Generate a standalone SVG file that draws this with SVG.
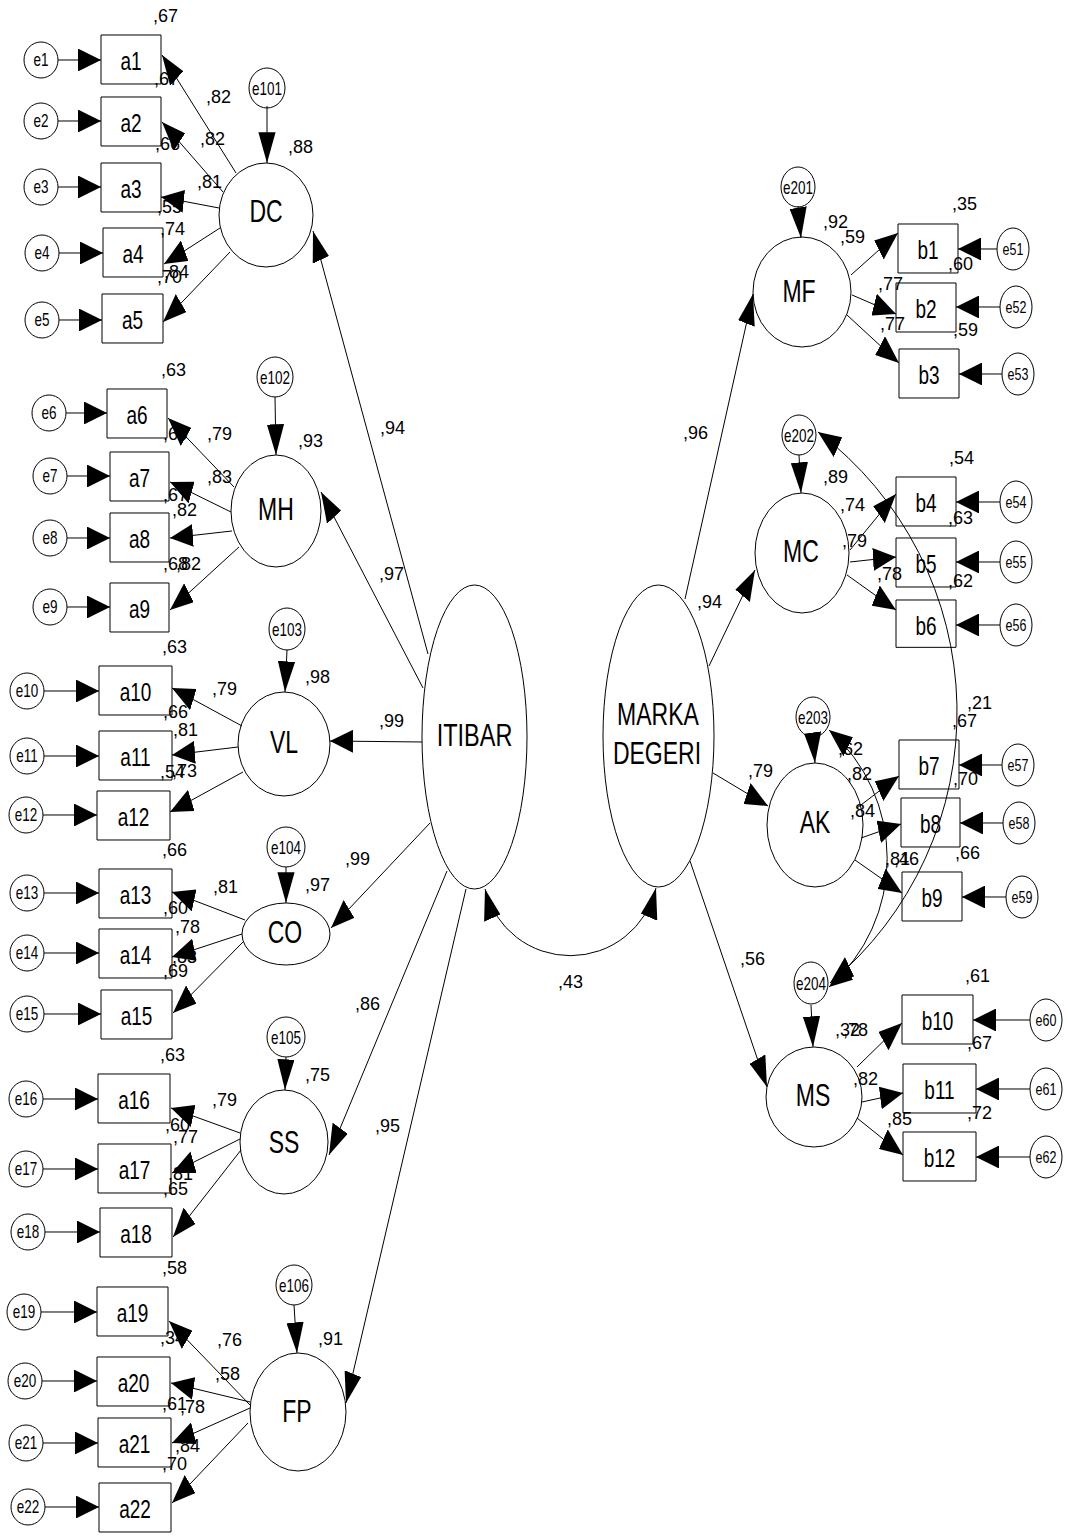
<svg xmlns="http://www.w3.org/2000/svg" width="1068" height="1536" viewBox="0 0 1068 1536">
<style>
  .n { fill: none; stroke: #000; stroke-width: 1; vector-effect: non-scaling-stroke; }
  .c { fill: none; stroke: #000; stroke-width: 1; vector-effect: non-scaling-stroke; marker-end: url(#ah); }
  .cv { fill: none; stroke: #000; stroke-width: 1; vector-effect: non-scaling-stroke; marker-start: url(#ah); marker-end: url(#ah); }
  text { font-family: "Liberation Sans", Arial, sans-serif; fill: #000; }
  .ti { font-size: 19px; text-anchor: middle; }
  .tl { font-size: 23px; text-anchor: middle; }
  .te { font-size: 13.5px; text-anchor: middle; }
  .tr { font-size: 12.5px; text-anchor: middle; }
  .v { font-size: 18px; }
</style>
<defs>
  <marker id="ah" markerUnits="userSpaceOnUse" viewBox="0 0 23 17.2" markerWidth="23" markerHeight="17.2" refX="23" refY="8.6" orient="auto-start-reverse">
    <path d="M0,0 L23,8.6 L0,17.2 z" fill="#000"/>
  </marker>
</defs>

<!-- standardized estimates and squared multiple correlations -->
<g id="coefficients" class="v">
  <text x="153" y="22">,67</text>
  <text x="154" y="85">,67</text>
  <text x="155" y="150">,66</text>
  <text x="157" y="213">,55</text>
  <text x="157" y="283">,70</text>
  <text x="164" y="278">,84</text>
  <text x="160" y="235">,74</text>
  <text x="206" y="103">,82</text>
  <text x="200" y="145">,82</text>
  <text x="197" y="188">,81</text>
  <text x="288" y="153">,88</text>

  <text x="161" y="376">,63</text>
  <text x="163" y="440">,69</text>
  <text x="163" y="501">,67</text>
  <text x="163" y="570">,68</text>
  <text x="176" y="570">,82</text>
  <text x="207" y="440">,79</text>
  <text x="207" y="483">,83</text>
  <text x="172" y="516">,82</text>
  <text x="298" y="447">,93</text>

  <text x="162" y="653">,63</text>
  <text x="163" y="718">,66</text>
  <text x="160" y="778">,54</text>
  <text x="172" y="777">,73</text>
  <text x="212" y="695">,79</text>
  <text x="173" y="736">,81</text>
  <text x="305" y="683">,98</text>

  <text x="162" y="856">,66</text>
  <text x="163" y="914">,60</text>
  <text x="163" y="977">,69</text>
  <text x="172" y="963">,83</text>
  <text x="213" y="893">,81</text>
  <text x="175" y="933">,78</text>
  <text x="305" y="891">,97</text>

  <text x="160" y="1061">,63</text>
  <text x="165" y="1131">,60</text>
  <text x="163" y="1195">,65</text>
  <text x="168" y="1180">,81</text>
  <text x="212" y="1106">,79</text>
  <text x="173" y="1143">,77</text>
  <text x="305" y="1081">,75</text>

  <text x="162" y="1274">,58</text>
  <text x="160" y="1344">,34</text>
  <text x="162" y="1410">,61</text>
  <text x="180" y="1413">,78</text>
  <text x="162" y="1470">,70</text>
  <text x="175" y="1452">,84</text>
  <text x="217" y="1346">,76</text>
  <text x="215" y="1380">,58</text>
  <text x="318" y="1345">,91</text>

  <text x="380" y="434">,94</text>
  <text x="379" y="580">,97</text>
  <text x="379" y="727">,99</text>
  <text x="345" y="865">,99</text>
  <text x="355" y="1010">,86</text>
  <text x="375" y="1132">,95</text>
  <text x="558" y="988">,43</text>
  <text x="683" y="439">,96</text>
  <text x="697" y="608">,94</text>
  <text x="748" y="777">,79</text>
  <text x="740" y="965">,56</text>

  <text x="952" y="210">,35</text>
  <text x="823" y="228">,92</text>
  <text x="840" y="243">,59</text>
  <text x="948" y="270">,60</text>
  <text x="878" y="290">,77</text>
  <text x="880" y="330">,77</text>
  <text x="953" y="336">,59</text>

  <text x="949" y="464">,54</text>
  <text x="948" y="524">,63</text>
  <text x="948" y="587">,62</text>
  <text x="823" y="483">,89</text>
  <text x="840" y="511">,74</text>
  <text x="842" y="547">,79</text>
  <text x="877" y="580">,78</text>

  <text x="952" y="727">,67</text>
  <text x="953" y="785">,70</text>
  <text x="955" y="859">,66</text>
  <text x="838" y="755">,62</text>
  <text x="847" y="780">,82</text>
  <text x="850" y="817">,84</text>
  <text x="885" y="865">,81</text>
  <text x="894" y="865">,46</text>
  <text x="967" y="709">,21</text>

  <text x="965" y="982">,61</text>
  <text x="967" y="1049">,67</text>
  <text x="967" y="1119">,72</text>
  <text x="835" y="1036">,32</text>
  <text x="843" y="1036">,78</text>
  <text x="853" y="1085">,82</text>
  <text x="887" y="1125">,85</text>
</g>

<!-- model drawn in a vertically stretched frame -->
<g id="model" transform="scale(1 1.333333)">
  <!-- ITIBAR measurement: error terms -->
  <g id="e1"><ellipse class="n" cx="41" cy="45" rx="17" ry="13.5"/><text class="te" x="41" y="49.5">e1</text></g>
  <g id="e2"><ellipse class="n" cx="41" cy="90.75" rx="17" ry="13.5"/><text class="te" x="41" y="95.25">e2</text></g>
  <g id="e3"><ellipse class="n" cx="41" cy="140.25" rx="17" ry="13.5"/><text class="te" x="41" y="144.75">e3</text></g>
  <g id="e4"><ellipse class="n" cx="42" cy="189.75" rx="17" ry="13.5"/><text class="te" x="42" y="194.25">e4</text></g>
  <g id="e5"><ellipse class="n" cx="42" cy="240" rx="17" ry="13.5"/><text class="te" x="42" y="244.5">e5</text></g>
  <g id="e6"><ellipse class="n" cx="49" cy="309.75" rx="17" ry="13.5"/><text class="te" x="49" y="314.25">e6</text></g>
  <g id="e7"><ellipse class="n" cx="50" cy="357" rx="17" ry="13.5"/><text class="te" x="50" y="361.5">e7</text></g>
  <g id="e8"><ellipse class="n" cx="50" cy="403.5" rx="17" ry="13.5"/><text class="te" x="50" y="408">e8</text></g>
  <g id="e9"><ellipse class="n" cx="50" cy="455.25" rx="17" ry="13.5"/><text class="te" x="50" y="459.75">e9</text></g>
  <g id="e10"><ellipse class="n" cx="27" cy="518.25" rx="17" ry="13.5"/><text class="te" x="27" y="522.75">e10</text></g>
  <g id="e11"><ellipse class="n" cx="27" cy="567" rx="17" ry="13.5"/><text class="te" x="27" y="571.5">e11</text></g>
  <g id="e12"><ellipse class="n" cx="26" cy="611.25" rx="17" ry="13.5"/><text class="te" x="26" y="615.75">e12</text></g>
  <g id="e13"><ellipse class="n" cx="27" cy="669.75" rx="17" ry="13.5"/><text class="te" x="27" y="674.25">e13</text></g>
  <g id="e14"><ellipse class="n" cx="27" cy="714.75" rx="17" ry="13.5"/><text class="te" x="27" y="719.25">e14</text></g>
  <g id="e15"><ellipse class="n" cx="27" cy="760.5" rx="17" ry="13.5"/><text class="te" x="27" y="765">e15</text></g>
  <g id="e16"><ellipse class="n" cx="26" cy="824.25" rx="17" ry="13.5"/><text class="te" x="26" y="828.75">e16</text></g>
  <g id="e17"><ellipse class="n" cx="26" cy="876.75" rx="17" ry="13.5"/><text class="te" x="26" y="881.25">e17</text></g>
  <g id="e18"><ellipse class="n" cx="28" cy="924" rx="17" ry="13.5"/><text class="te" x="28" y="928.5">e18</text></g>
  <g id="e19"><ellipse class="n" cx="24" cy="984" rx="17" ry="13.5"/><text class="te" x="24" y="988.5">e19</text></g>
  <g id="e20"><ellipse class="n" cx="25" cy="1035.75" rx="17" ry="13.5"/><text class="te" x="25" y="1040.25">e20</text></g>
  <g id="e21"><ellipse class="n" cx="26" cy="1082.25" rx="17" ry="13.5"/><text class="te" x="26" y="1086.75">e21</text></g>
  <g id="e22"><ellipse class="n" cx="28" cy="1130.25" rx="17" ry="13.5"/><text class="te" x="28" y="1134.75">e22</text></g>

  <!-- ITIBAR measurement: indicators -->
  <g id="a1"><rect class="n" x="101" y="26.25" width="60" height="36.75"/><text class="ti" x="131" y="52.25">a1</text></g>
  <g id="a2"><rect class="n" x="101" y="72.75" width="60" height="36.75"/><text class="ti" x="131" y="98.75">a2</text></g>
  <g id="a3"><rect class="n" x="101" y="122.25" width="60" height="36.75"/><text class="ti" x="131" y="148.25">a3</text></g>
  <g id="a4"><rect class="n" x="103" y="171" width="60" height="36.75"/><text class="ti" x="133" y="197">a4</text></g>
  <g id="a5"><rect class="n" x="102" y="220.5" width="61" height="36.75"/><text class="ti" x="132.5" y="246.5">a5</text></g>
  <g id="a6"><rect class="n" x="107" y="291.75" width="60" height="36.75"/><text class="ti" x="137" y="317.75">a6</text></g>
  <g id="a7"><rect class="n" x="110" y="339" width="59" height="36.75"/><text class="ti" x="139.5" y="365">a7</text></g>
  <g id="a8"><rect class="n" x="110" y="384.75" width="59" height="36.75"/><text class="ti" x="139.5" y="410.75">a8</text></g>
  <g id="a9"><rect class="n" x="110" y="437.25" width="59" height="36.75"/><text class="ti" x="139.5" y="463.25">a9</text></g>
  <g id="a10"><rect class="n" x="99" y="499.5" width="73" height="36.75"/><text class="ti" x="135.5" y="525.5">a10</text></g>
  <g id="a11"><rect class="n" x="99" y="548.25" width="73" height="36.75"/><text class="ti" x="135.5" y="574.25">a11</text></g>
  <g id="a12"><rect class="n" x="97" y="593.25" width="73" height="36.75"/><text class="ti" x="133.5" y="619.25">a12</text></g>
  <g id="a13"><rect class="n" x="99" y="651.75" width="73" height="36.75"/><text class="ti" x="135.5" y="677.75">a13</text></g>
  <g id="a14"><rect class="n" x="99" y="696.75" width="73" height="36.75"/><text class="ti" x="135.5" y="722.75">a14</text></g>
  <g id="a15"><rect class="n" x="101" y="742.5" width="71" height="36.75"/><text class="ti" x="136.5" y="768.5">a15</text></g>
  <g id="a16"><rect class="n" x="98" y="805.5" width="72" height="36.75"/><text class="ti" x="134" y="831.5">a16</text></g>
  <g id="a17"><rect class="n" x="98" y="858" width="73" height="36.75"/><text class="ti" x="134.5" y="884">a17</text></g>
  <g id="a18"><rect class="n" x="100" y="906" width="72" height="36.75"/><text class="ti" x="136" y="932">a18</text></g>
  <g id="a19"><rect class="n" x="97" y="965.25" width="71" height="36.75"/><text class="ti" x="132.5" y="991.25">a19</text></g>
  <g id="a20"><rect class="n" x="97" y="1017.75" width="73" height="36.75"/><text class="ti" x="133.5" y="1043.75">a20</text></g>
  <g id="a21"><rect class="n" x="98" y="1063.5" width="73" height="36.75"/><text class="ti" x="134.5" y="1089.5">a21</text></g>
  <g id="a22"><rect class="n" x="99" y="1112.25" width="72" height="36.75"/><text class="ti" x="135" y="1138.25">a22</text></g>

  <!-- first-order factors of ITIBAR and their disturbances -->
  <g id="e101"><ellipse class="n" cx="267" cy="66" rx="18" ry="15"/><text class="te" x="267" y="71">e101</text></g>
  <g id="e102"><ellipse class="n" cx="275" cy="282.75" rx="18" ry="15"/><text class="te" x="275" y="287.75">e102</text></g>
  <g id="e103"><ellipse class="n" cx="287" cy="471.75" rx="18" ry="15.75"/><text class="te" x="287" y="476.75">e103</text></g>
  <g id="e104"><ellipse class="n" cx="286" cy="635.25" rx="19" ry="15"/><text class="te" x="286" y="640.25">e104</text></g>
  <g id="e105"><ellipse class="n" cx="286" cy="777.75" rx="19" ry="15"/><text class="te" x="286" y="782.75">e105</text></g>
  <g id="e106"><ellipse class="n" cx="294" cy="963.75" rx="18" ry="15"/><text class="te" x="294" y="968.75">e106</text></g>
  <g id="DC"><ellipse class="n" cx="266" cy="161.25" rx="47" ry="39"/><text class="tl" x="266" y="166.5">DC</text></g>
  <g id="MH"><ellipse class="n" cx="276" cy="383.25" rx="45" ry="42"/><text class="tl" x="276" y="390">MH</text></g>
  <g id="VL"><ellipse class="n" cx="284" cy="558" rx="46" ry="39"/><text class="tl" x="284" y="564.75">VL</text></g>
  <g id="CO"><ellipse class="n" cx="286" cy="700.5" rx="44" ry="23.25"/><text class="tl" x="285" y="707.25">CO</text></g>
  <g id="SS"><ellipse class="n" cx="284" cy="856.5" rx="44" ry="39"/><text class="tl" x="284" y="864.75">SS</text></g>
  <g id="FP"><ellipse class="n" cx="298" cy="1059" rx="48" ry="44.25"/><text class="tl" x="297" y="1066.5">FP</text></g>

  <!-- second-order factors -->
  <g id="ITIBAR"><ellipse class="n" cx="474.5" cy="552.75" rx="52.5" ry="114"/><text class="tl" x="474.5" y="559.5" style="font-size:23.5px">ITIBAR</text></g>
  <g id="MARKA_DEGERI"><ellipse class="n" cx="658.5" cy="552" rx="55.5" ry="113.25"/><text class="tl" x="658" y="543.75">MARKA</text><text class="tl" x="657" y="573">DEGERI</text></g>

  <!-- MARKA DEGERI first-order factors and disturbances -->
  <g id="e201"><ellipse class="n" cx="798" cy="140.25" rx="17" ry="15"/><text class="te" x="798" y="145.25">e201</text></g>
  <g id="e202"><ellipse class="n" cx="799" cy="326.25" rx="17" ry="15"/><text class="te" x="799" y="331.25">e202</text></g>
  <g id="e203"><ellipse class="n" cx="813" cy="537.75" rx="17" ry="15"/><text class="te" x="813" y="542.75">e203</text></g>
  <g id="e204"><ellipse class="n" cx="811" cy="737.25" rx="17" ry="15.75"/><text class="te" x="811" y="742.25">e204</text></g>
  <g id="MF"><ellipse class="n" cx="802" cy="219" rx="49" ry="41.25"/><text class="tl" x="799" y="226.5">MF</text></g>
  <g id="MC"><ellipse class="n" cx="802" cy="414.75" rx="47" ry="45"/><text class="tl" x="801" y="421.5">MC</text></g>
  <g id="AK"><ellipse class="n" cx="815" cy="618.75" rx="48" ry="46.5"/><text class="tl" x="815" y="624.75">AK</text></g>
  <g id="MS"><ellipse class="n" cx="814" cy="822.75" rx="48" ry="37.5"/><text class="tl" x="813" y="829.5">MS</text></g>

  <!-- MARKA DEGERI indicators -->
  <g id="b1"><rect class="n" x="898" y="168" width="60" height="36.75"/><text class="ti" x="928" y="194">b1</text></g>
  <g id="b2"><rect class="n" x="896" y="212.25" width="60" height="36.75"/><text class="ti" x="926" y="238.25">b2</text></g>
  <g id="b3"><rect class="n" x="899" y="261.75" width="60" height="36.75"/><text class="ti" x="929" y="287.75">b3</text></g>
  <g id="b4"><rect class="n" x="896" y="357.75" width="60" height="36.75"/><text class="ti" x="926" y="383.75">b4</text></g>
  <g id="b5"><rect class="n" x="896" y="403.5" width="60" height="36.75"/><text class="ti" x="926" y="429.5">b5</text></g>
  <g id="b6"><rect class="n" x="896" y="450" width="60" height="35.5"/><text class="ti" x="926" y="476">b6</text></g>
  <g id="b7"><rect class="n" x="899" y="555" width="60" height="36.75"/><text class="ti" x="929" y="581">b7</text></g>
  <g id="b8"><rect class="n" x="901" y="598.5" width="59" height="36.75"/><text class="ti" x="930.5" y="624.5">b8</text></g>
  <g id="b9"><rect class="n" x="902" y="654" width="60" height="36.75"/><text class="ti" x="932" y="680">b9</text></g>
  <g id="b10"><rect class="n" x="902" y="746.25" width="71" height="36.75"/><text class="ti" x="937.5" y="772.25">b10</text></g>
  <g id="b11"><rect class="n" x="903" y="798" width="73" height="36.75"/><text class="ti" x="939.5" y="824">b11</text></g>
  <g id="b12"><rect class="n" x="903" y="849" width="73" height="36.75"/><text class="ti" x="939.5" y="875">b12</text></g>

  <!-- MARKA DEGERI indicator errors -->
  <g id="e51"><ellipse class="n" cx="1013" cy="186.75" rx="16" ry="15.75"/><text class="tr" x="1013" y="191.25">e51</text></g>
  <g id="e52"><ellipse class="n" cx="1016" cy="230.25" rx="16" ry="15.75"/><text class="tr" x="1016" y="234.75">e52</text></g>
  <g id="e53"><ellipse class="n" cx="1018" cy="280.5" rx="16" ry="15.75"/><text class="tr" x="1018" y="285">e53</text></g>
  <g id="e54"><ellipse class="n" cx="1016" cy="376.5" rx="16" ry="15.75"/><text class="tr" x="1016" y="381">e54</text></g>
  <g id="e55"><ellipse class="n" cx="1016" cy="421.5" rx="16" ry="15.75"/><text class="tr" x="1016" y="426">e55</text></g>
  <g id="e56"><ellipse class="n" cx="1016" cy="468.75" rx="16" ry="15.75"/><text class="tr" x="1016" y="473.25">e56</text></g>
  <g id="e57"><ellipse class="n" cx="1018" cy="573.75" rx="16" ry="15.75"/><text class="tr" x="1018" y="578.25">e57</text></g>
  <g id="e58"><ellipse class="n" cx="1019" cy="617.25" rx="16" ry="15.75"/><text class="tr" x="1019" y="621.75">e58</text></g>
  <g id="e59"><ellipse class="n" cx="1022" cy="672.75" rx="16" ry="15.75"/><text class="tr" x="1022" y="677.25">e59</text></g>
  <g id="e60"><ellipse class="n" cx="1046" cy="765" rx="16" ry="15.75"/><text class="tr" x="1046" y="769.5">e60</text></g>
  <g id="e61"><ellipse class="n" cx="1046" cy="816.75" rx="16" ry="15.75"/><text class="tr" x="1046" y="821.25">e61</text></g>
  <g id="e62"><ellipse class="n" cx="1046" cy="867.75" rx="16" ry="15.75"/><text class="tr" x="1046" y="872.25">e62</text></g>

  <g id="connectors">
    <!-- error -> indicator, left block -->
    <path class="c" d="M58,45 L101,45"/>
    <path class="c" d="M58,90.75 L101,90.75"/>
    <path class="c" d="M58,140.25 L101,140.25"/>
    <path class="c" d="M59,189.75 L103,189.75"/>
    <path class="c" d="M59,240 L102,240"/>
    <path class="c" d="M66,309.75 L107,309.75"/>
    <path class="c" d="M67,357 L110,357"/>
    <path class="c" d="M67,403.5 L110,403.5"/>
    <path class="c" d="M67,455.25 L110,455.25"/>
    <path class="c" d="M44,518.25 L99,518.25"/>
    <path class="c" d="M44,567 L99,567"/>
    <path class="c" d="M43,611.25 L97,611.25"/>
    <path class="c" d="M44,669.75 L99,669.75"/>
    <path class="c" d="M44,714.75 L99,714.75"/>
    <path class="c" d="M44,760.5 L101,760.5"/>
    <path class="c" d="M43,824.25 L98,824.25"/>
    <path class="c" d="M43,876.75 L98,876.75"/>
    <path class="c" d="M45,924 L100,924"/>
    <path class="c" d="M41,984 L97,984"/>
    <path class="c" d="M42,1035.75 L97,1035.75"/>
    <path class="c" d="M43,1082.25 L98,1082.25"/>
    <path class="c" d="M45,1130.25 L99,1130.25"/>

    <!-- disturbances -> first-order factors -->
    <path class="c" d="M267,79.5 L267,122.25"/>
    <path class="c" d="M275,297.75 L276,341.25"/>
    <path class="c" d="M287,487.5 L285,519"/>
    <path class="c" d="M286,650.25 L286,677.25"/>
    <path class="c" d="M286,792.75 L285,817.5"/>
    <path class="c" d="M294,978.75 L297,1014.75"/>

    <!-- factor loadings, left block -->
    <path class="c" d="M236,129.75 L162,41.25"/>
    <path class="c" d="M223,144 L162,91.5"/>
    <path class="c" d="M219,156 L161,147.75"/>
    <path class="c" d="M220,171 L164,198"/>
    <path class="c" d="M230,189 L163,241.5"/>
    <path class="c" d="M234,365.25 L168,313.5"/>
    <path class="c" d="M231,384 L170,361.5"/>
    <path class="c" d="M232,398.25 L170,403.5"/>
    <path class="c" d="M239,410.25 L170,457.5"/>
    <path class="c" d="M242,544.5 L172,516"/>
    <path class="c" d="M238,560.25 L172,566.25"/>
    <path class="c" d="M243,579 L170,609"/>
    <path class="c" d="M245,690 L172,669"/>
    <path class="c" d="M242,700.5 L172,717.75"/>
    <path class="c" d="M243,706.5 L173,759.75"/>
    <path class="c" d="M240,849.75 L171,831"/>
    <path class="c" d="M240,854.25 L172,879.75"/>
    <path class="c" d="M241,862.5 L173,927.75"/>
    <path class="c" d="M250,1053.75 L169,990.75"/>
    <path class="c" d="M250,1051.5 L171,1037.25"/>
    <path class="c" d="M250,1056 L172,1082.25"/>
    <path class="c" d="M248,1067.25 L172,1127.25"/>

    <!-- ITIBAR -> first-order factors -->
    <path class="c" d="M428,490.5 L313,173.25"/>
    <path class="c" d="M423,516 L321,369"/>
    <path class="c" d="M422,556.5 L330,555.75"/>
    <path class="c" d="M430,617.25 L331,696"/>
    <path class="c" d="M447,653.25 L329,866.25"/>
    <path class="c" d="M466,666.75 L346,1052.25"/>

    <!-- ITIBAR <-> MARKA DEGERI -->
    <path class="cv" d="M485,666.75 A88,66 0 0 0 656,666"/>

    <!-- MARKA DEGERI -> first-order factors -->
    <path class="c" d="M685,449.25 L753,220.5"/>
    <path class="c" d="M709,499.5 L755,427.5"/>
    <path class="c" d="M713,579.75 L768,604.5"/>
    <path class="c" d="M690,645.75 L767,815.25"/>

    <!-- disturbances, right block -->
    <path class="c" d="M798,154.5 L801,178.5"/>
    <path class="c" d="M799,341.25 L801,369.75"/>
    <path class="c" d="M813,552.75 L815,572.25"/>
    <path class="c" d="M811,753.75 L813,785.25"/>

    <!-- factor loadings, right block -->
    <path class="c" d="M851,206.25 L898,174.75"/>
    <path class="c" d="M852,221.25 L896,235.5"/>
    <path class="c" d="M847,236.25 L899,272.25"/>
    <path class="c" d="M850,412.5 L896,370.5"/>
    <path class="c" d="M850,421.5 L896,417.75"/>
    <path class="c" d="M847,431.25 L896,457.5"/>
    <path class="c" d="M857,606 L899,582"/>
    <path class="c" d="M861,628.5 L901,618"/>
    <path class="c" d="M855,645 L902,669.75"/>
    <path class="c" d="M857,800.25 L902,767.25"/>
    <path class="c" d="M862,826.5 L903,819.75"/>
    <path class="c" d="M857,838.5 L903,866.25"/>

    <!-- error -> indicator, right block -->
    <path class="c" d="M997,186.75 L958,186.75"/>
    <path class="c" d="M1000,230.25 L956,230.25"/>
    <path class="c" d="M1002,280.5 L959,280.5"/>
    <path class="c" d="M1000,376.5 L956,376.5"/>
    <path class="c" d="M1000,421.5 L956,421.5"/>
    <path class="c" d="M1000,468.75 L956,468.75"/>
    <path class="c" d="M1002,573.75 L959,573.75"/>
    <path class="c" d="M1003,617.25 L960,617.25"/>
    <path class="c" d="M1006,672.75 L962,672.75"/>
    <path class="c" d="M1030,765 L973,765"/>
    <path class="c" d="M1030,816.75 L976,816.75"/>
    <path class="c" d="M1030,867.75 L976,867.75"/>

    <!-- disturbance covariances -->
    <path class="cv" d="M818,324 A352,264 0 0 1 830,737.25"/>
    <path class="cv" d="M829,547.5 A171,128.25 0 0 1 829,740.25"/>
  </g>
</g>
</svg>
